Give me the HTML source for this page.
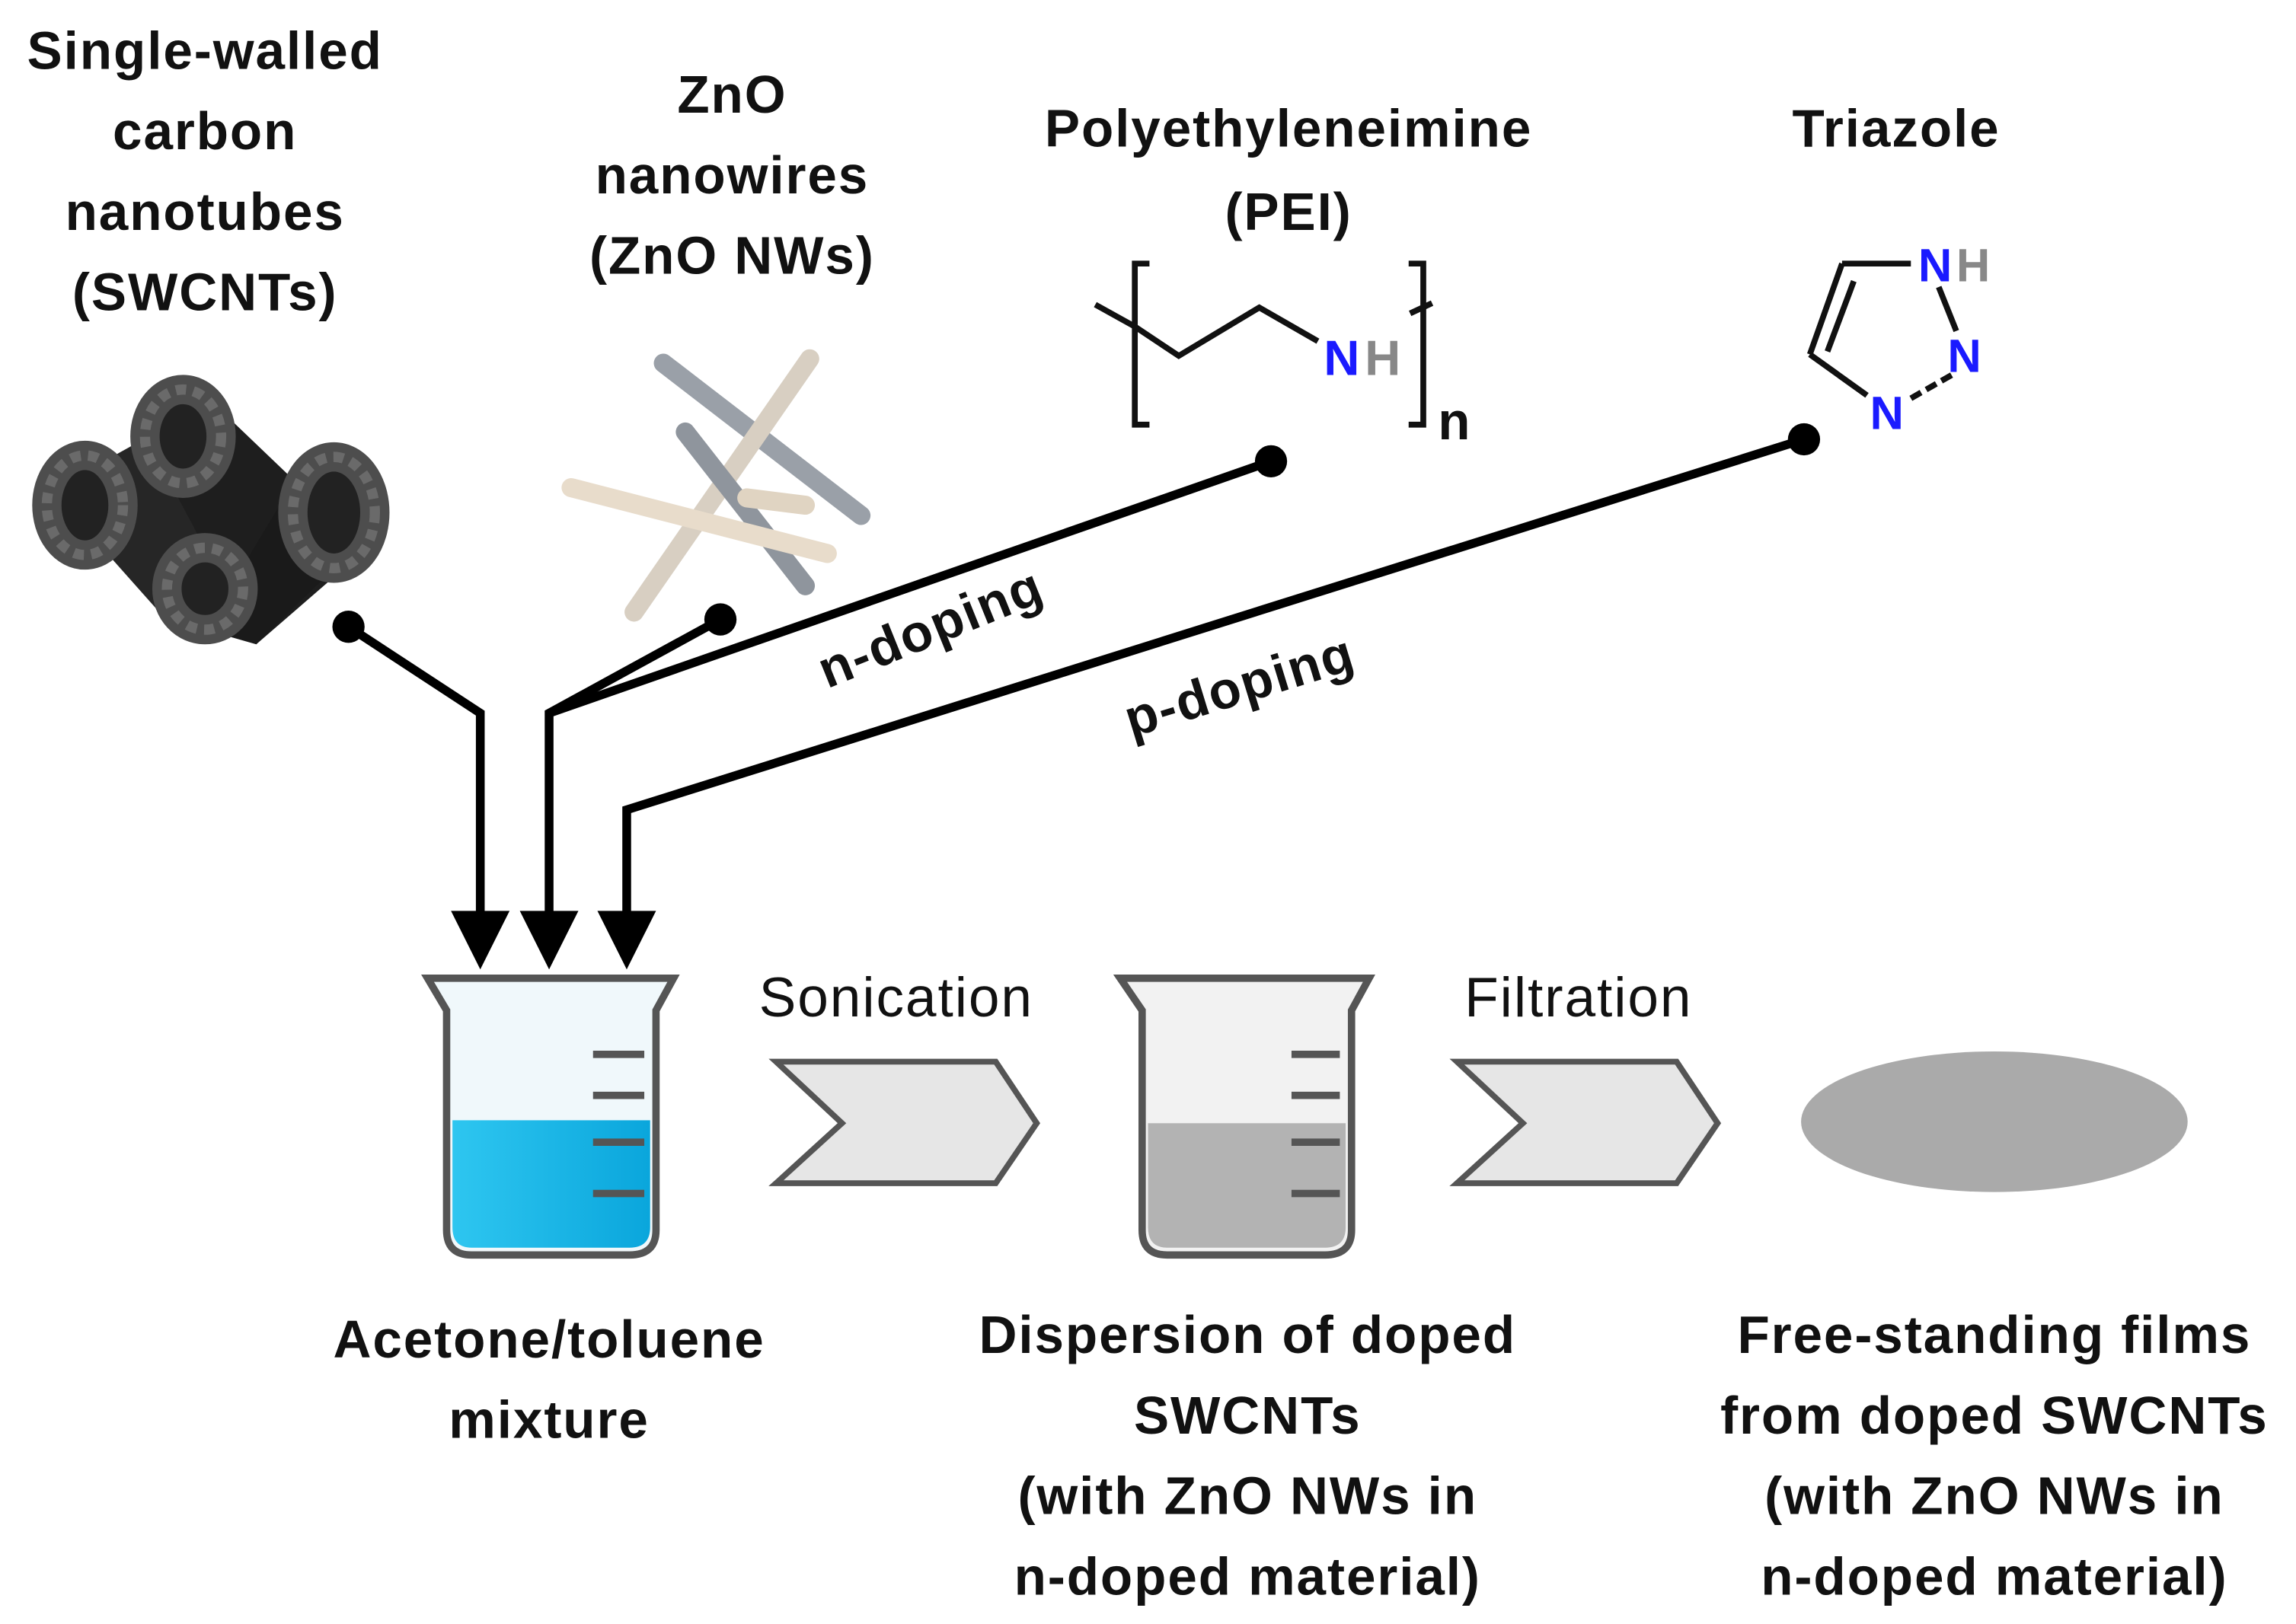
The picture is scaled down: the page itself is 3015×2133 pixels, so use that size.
<!DOCTYPE html>
<html><head><meta charset="utf-8"><style>
html,body{margin:0;padding:0;background:#fff}
svg{display:block}
.b{font-family:"Liberation Sans",sans-serif;font-weight:bold;font-size:36px;letter-spacing:1px;fill:#111;text-anchor:middle}
.r{font-family:"Liberation Sans",sans-serif;font-size:38px;letter-spacing:1px;fill:#111;text-anchor:middle}
</style></head><body>
<svg width="3015" height="2133" viewBox="0 0 1568 1109" preserveAspectRatio="none" xmlns="http://www.w3.org/2000/svg">
<defs>
<linearGradient id="blue" x1="0" y1="0" x2="1" y2="0"><stop offset="0" stop-color="#2ec6f0"/><stop offset="1" stop-color="#0aa6dc"/></linearGradient>
</defs>
<!-- top labels -->
<text class="b" x="140" y="47">Single-walled</text>
<text class="b" x="140" y="102">carbon</text>
<text class="b" x="140" y="157">nanotubes</text>
<text class="b" x="140" y="212">(SWCNTs)</text>
<text class="b" x="500" y="77">ZnO</text>
<text class="b" x="500" y="132">nanowires</text>
<text class="b" x="500" y="187">(ZnO NWs)</text>
<text class="b" x="880" y="100">Polyethyleneimine</text>
<text class="b" x="880" y="157">(PEI)</text>
<text class="b" x="1295" y="100">Triazole</text>

<!-- SWCNT -->
<g>
<polygon points="35,335 125,285 205,345 115,425" fill="#262626"/>
<polygon points="95,290 135,265 250,375 175,440" fill="#1e1e1e"/>
<polygon points="140,430 200,330 262,355 175,440" fill="#1a1a1a"/>
<g fill="#222" stroke="#4d4d4d" stroke-width="20">
<ellipse cx="58" cy="345" rx="26" ry="34"/>
<ellipse cx="125" cy="298" rx="26" ry="32"/>
<ellipse cx="228" cy="350" rx="28" ry="38"/>
<ellipse cx="140" cy="402" rx="26" ry="28"/>
</g>
<g fill="none" stroke="#6a6a6a" stroke-width="7" stroke-dasharray="7 5">
<ellipse cx="58" cy="345" rx="26" ry="34"/>
<ellipse cx="125" cy="298" rx="26" ry="32"/>
<ellipse cx="228" cy="350" rx="28" ry="38"/>
<ellipse cx="140" cy="402" rx="26" ry="28"/>
</g>
</g>

<!-- ZnO nanowires -->
<g stroke-linecap="round" stroke-width="13">
<line x1="453" y1="248" x2="588" y2="352" stroke="#9aa0a8"/>
<line x1="553" y1="245" x2="433" y2="418" stroke="#d8cfc2"/>
<line x1="468" y1="295" x2="550" y2="400" stroke="#8f959d"/>
<line x1="510" y1="340" x2="550" y2="345" stroke="#e0d4c2"/>
<line x1="390" y1="333" x2="565" y2="378" stroke="#e8dccb"/>
</g>

<!-- PEI -->
<g stroke="#111" stroke-width="4" fill="none">
<polyline points="748,208 775,223 805,243 860,210 900,233"/>
<line x1="963" y1="214" x2="978" y2="207"/>
<polyline points="785,180 775,180 775,290 785,290"/>
<polyline points="962,180 972,180 972,290 962,290"/>
</g>
<text x="904" y="256" font-family="Liberation Sans,sans-serif" font-weight="bold" font-size="34" fill="#1a1aff">N</text>
<text x="932" y="256" font-family="Liberation Sans,sans-serif" font-weight="bold" font-size="34" fill="#888">H</text>
<text x="982" y="300" class="b" style="text-anchor:start">n</text>

<!-- Triazole -->
<g stroke="#111" stroke-width="4" fill="none">
<line x1="1258" y1="180" x2="1305" y2="180"/>
<line x1="1258" y1="180" x2="1236" y2="242"/>
<line x1="1266" y1="192" x2="1248" y2="240"/>
<line x1="1236" y1="242" x2="1275" y2="270"/>
<line x1="1324" y1="196" x2="1336" y2="226"/>
<line x1="1305" y1="272" x2="1333" y2="256" stroke-dasharray="8 4"/>
</g>
<text x="1310" y="192" font-family="Liberation Sans,sans-serif" font-weight="bold" font-size="32" fill="#1a1aff">N</text>
<text x="1336" y="192" font-family="Liberation Sans,sans-serif" font-weight="bold" font-size="32" fill="#888">H</text>
<text x="1330" y="254" font-family="Liberation Sans,sans-serif" font-weight="bold" font-size="32" fill="#1a1aff">N</text>
<text x="1277" y="293" font-family="Liberation Sans,sans-serif" font-weight="bold" font-size="32" fill="#1a1aff">N</text>

<!-- connectors -->
<g fill="#000">
<circle cx="238" cy="428" r="11"/><circle cx="492" cy="423" r="11"/>
<circle cx="868" cy="315" r="11"/><circle cx="1232" cy="300" r="11"/>
<polygon points="308,622 348,622 328,662"/>
<polygon points="355,622 395,622 375,662"/>
<polygon points="408,622 448,622 428,662"/>
</g>
<g stroke="#000" stroke-width="6" fill="none">
<polyline points="238,428 328,487 328,625"/>
<polyline points="492,423 375,487 375,625"/>
<line x1="868" y1="315" x2="375" y2="487"/>
<polyline points="1232,300 428,553 428,625"/>
</g>
<text class="b" x="0" y="0" transform="translate(640,440) rotate(-22)">n-doping</text>
<text class="b" x="0" y="0" transform="translate(850,480) rotate(-17)">p-doping</text>

<!-- beaker 1 -->
<path d="M292,668 L460,668 L448,690 L448,840 Q448,857 430,857 L322,857 Q305,857 305,840 L305,690 Z" fill="#f0f8fb" stroke="#555" stroke-width="5"/>
<path d="M309,765 L444,765 L444,838 Q444,852 430,852 L322,852 Q309,852 309,838 Z" fill="url(#blue)"/>
<g stroke="#555" stroke-width="5"><line x1="405" y1="720" x2="440" y2="720"/><line x1="405" y1="748" x2="440" y2="748"/><line x1="405" y1="780" x2="440" y2="780"/><line x1="405" y1="815" x2="440" y2="815"/></g>

<text class="r" x="612" y="694">Sonication</text>
<polygon points="530,725 680,725 708,767 680,808 530,808 575,767" fill="#e6e6e6" stroke="#555" stroke-width="4"/>

<!-- beaker 2 -->
<path d="M765,668 L935,668 L923,690 L923,840 Q923,857 905,857 L797,857 Q780,857 780,840 L780,690 Z" fill="#f2f2f2" stroke="#555" stroke-width="5"/>
<path d="M784,767 L919,767 L919,838 Q919,852 905,852 L797,852 Q784,852 784,838 Z" fill="#b3b3b3"/>
<g stroke="#555" stroke-width="5"><line x1="882" y1="720" x2="915" y2="720"/><line x1="882" y1="748" x2="915" y2="748"/><line x1="882" y1="780" x2="915" y2="780"/><line x1="882" y1="815" x2="915" y2="815"/></g>

<text class="r" x="1078" y="694">Filtration</text>
<polygon points="995,725 1145,725 1173,767 1145,808 995,808 1040,767" fill="#e6e6e6" stroke="#555" stroke-width="4"/>

<ellipse cx="1362" cy="766" rx="132" ry="48" fill="#aaaaaa"/>

<!-- bottom labels -->
<text class="b" x="375" y="927">Acetone/toluene</text>
<text class="b" x="375" y="982">mixture</text>
<text class="b" x="852" y="924">Dispersion of doped</text>
<text class="b" x="852" y="979">SWCNTs</text>
<text class="b" x="852" y="1034">(with ZnO NWs in</text>
<text class="b" x="852" y="1089">n-doped material)</text>
<text class="b" x="1362" y="924">Free-standing films</text>
<text class="b" x="1362" y="979">from doped SWCNTs</text>
<text class="b" x="1362" y="1034">(with ZnO NWs in</text>
<text class="b" x="1362" y="1089">n-doped material)</text>
</svg>
</body></html>
